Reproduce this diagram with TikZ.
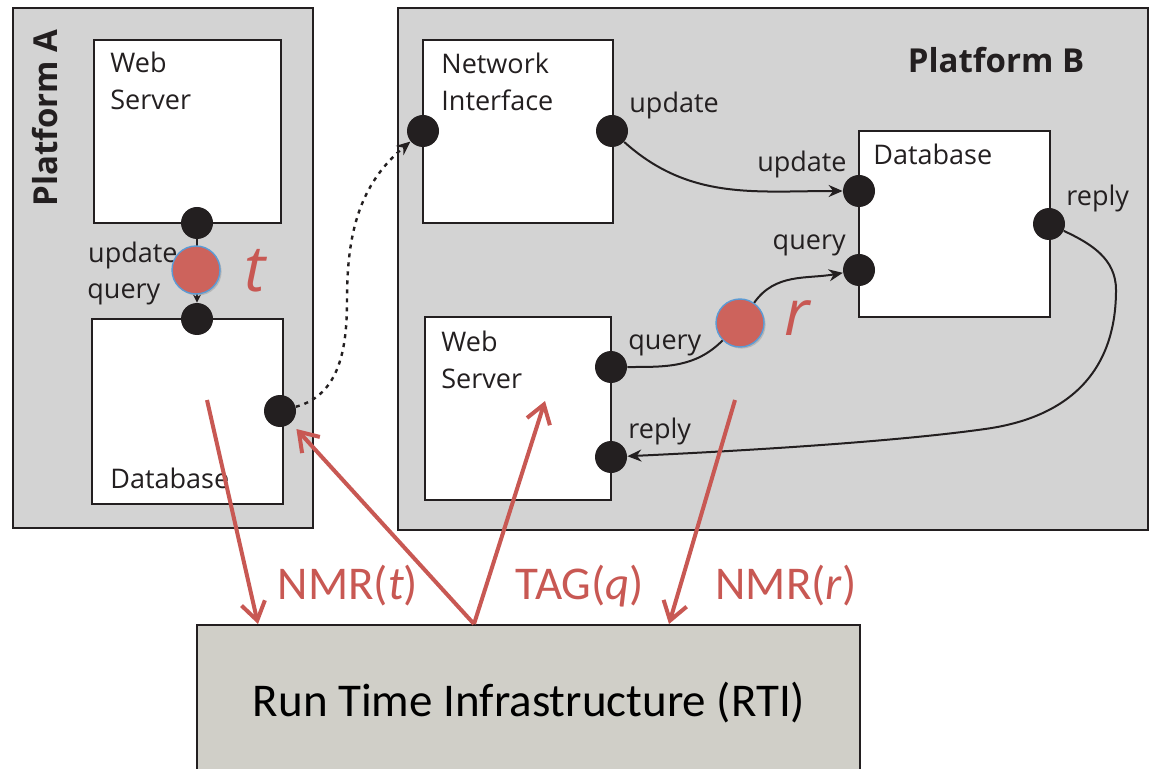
\documentclass[tikz,border=0pt]{standalone}
\usepackage{fontspec}
\setmainfont{Open Sans}
\newfontfamily\calfont{Carlito}
\usetikzlibrary{arrows.meta,shadows}
\definecolor{platgray}{RGB}{211,211,211}
\definecolor{rtigray}{RGB}{208,207,200}
\definecolor{nmrred}{RGB}{200,88,83}
\definecolor{dotred}{RGB}{205,99,92}
\definecolor{ringblue}{RGB}{91,155,213}
\definecolor{ink}{RGB}{35,31,32}
\begin{document}
\begin{tikzpicture}[x=0.5pt,y=-0.5pt,
 platform/.style={draw=ink,line width=1.2pt,fill=platgray,inner sep=0pt},
 comp/.style={draw=ink,line width=1.2pt,fill=white,inner sep=0pt},
 port/.style={circle,fill=ink,inner sep=0pt,minimum size=16pt},
 event/.style={circle,fill=dotred,draw=ringblue,line width=0.7pt,inner sep=0pt,minimum size=24pt,
   drop shadow={shadow xshift=0.8pt,shadow yshift=-0.8pt,opacity=0.35}},
 lbl/.style={font=\fontsize{13.5}{18.5}\selectfont,text=ink,inner sep=0pt},
 ttl/.style={font=\bfseries\fontsize{16.5}{20}\selectfont,text=ink,inner sep=0pt},
 evlbl/.style={font=\itshape\fontsize{32}{36}\selectfont,text=nmrred,inner sep=0pt},
 conn/.style={draw=ink,line width=1pt,-{Stealth[length=7pt,width=6pt]}},
 rtiarrow/.style={draw=nmrred,line width=2pt,-{Straight Barb[length=9pt,width=12pt]}},
 rtilbl/.style={font=\calfont\fontsize{23.5}{28}\selectfont,text=nmrred,inner sep=0pt},
]
\useasboundingbox (0,0) rectangle (1159,769);
\clip (0,0) rectangle (1159,769);

% platforms
\node[platform,minimum width=150pt,minimum height=260pt] (platA) at (163,268) {};
\node[platform,minimum width=375pt,minimum height=261pt] (platB) at (773,269) {};
\node[ttl,rotate=90,anchor=base] (platAt) at (57,118) {Platform A};
\node[ttl,anchor=base] (platBt) at (996,73) {Platform B};

% components
\node[comp,minimum width=93.5pt,minimum height=91.5pt] (wsA) at (187.5,131.5) {};
\node[comp,minimum width=95.5pt,minimum height=92.5pt] (dbA) at (187.5,411.5) {};
\node[comp,minimum width=95pt,minimum height=91.5pt] (ni) at (518,131.5) {};
\node[comp,minimum width=95.5pt,minimum height=93pt] (dbB) at (954.5,224) {};
\node[comp,minimum width=93pt,minimum height=91.5pt] (wsB) at (518,408.5) {};

\node[lbl,anchor=base west] (wsAt) at (110,73) {Web};
\node[lbl,anchor=base west] (wsAt2) at (110,110) {Server};
\node[lbl,anchor=base west] (dbAt) at (110,488) {Database};
\node[lbl,anchor=base west] (nit) at (441,74) {Network};
\node[lbl,anchor=base west] (nit2) at (441,111) {Interface};
\node[lbl,anchor=base west] (dbBt) at (873,165) {Database};
\node[lbl,anchor=base west] (wsBt) at (441,351) {Web};
\node[lbl,anchor=base west] (wsBt2) at (441,388) {Server};

% port labels
\node[lbl,anchor=base east] (lA1) at (178,263) {update};
\node[lbl,anchor=base west] (lA2) at (87,299) {query};
\node[lbl,anchor=base west] (lN) at (629,113) {update};
\node[lbl,anchor=base east] (lD1) at (847,172) {update};
\node[lbl,anchor=base east] (lD2) at (846,250) {query};
\node[lbl,anchor=base west] (lD3) at (1066,206) {reply};
\node[lbl,anchor=base west] (lW1) at (628,350) {query};
\node[lbl,anchor=base west] (lW2) at (628,438) {reply};

% ports
\node[port] (pA1) at (197,223) {};
\node[port] (pA2) at (197,319) {};
\node[port] (pA3) at (280,411) {};
\node[port] (pN1) at (423,131) {};
\node[port] (pN2) at (612,131) {};
\node[port] (pD1) at (859,191) {};
\node[port] (pD2) at (859,270) {};
\node[port] (pD3) at (1049,224) {};
\node[port] (pW1) at (611,367) {};
\node[port] (pW2) at (611,457) {};

% connectors
\draw[draw=ink,line width=1pt,-{Stealth[length=4pt,width=4pt]}] (pA1) -- (pA2);
\draw[conn,line width=1.2pt,dash pattern=on 2pt off 2.5pt] (pA3) to[out=15,in=-90] (347,300) to[out=90,in=-140] (pN1);
\draw[conn] (pN2) to[out=-42,in=180] (pD1);
\coordinate (rc1) at (1116,290);
\coordinate (rc2) at (985,429);
\draw[conn] (pD3) to[out=-25,in=90] (rc1)
  .. controls (1116,375) and (1065,418) .. (rc2)
  .. controls (900,441) and (760,450) .. (pW2);

% events
\node[event] (t) at (196,270) {};
\node[event] (r) at (740,323) {};
\draw[conn,-] (pW1) to[out=0,in=-135] (r);
\draw[conn] (r) to[out=55,in=190] (pD2);
\node[evlbl] (tl) at (255,271) {t};
\node[evlbl] (rl) at (797,318) {r};

% RTI
\node[draw=ink,line width=1.2pt,fill=rtigray,minimum width=331.5pt,minimum height=78pt] (rti) at (528.5,703) {};
\node[font=\calfont\fontsize{23.5}{28}\selectfont,text=black] (rtit) at (529,703) {Run Time Infrastructure (RTI)};

\coordinate (a1s) at (207,400);
\coordinate (a1e) at (258,624);
\coordinate (fork) at (474,624);
\coordinate (a3e) at (545,401);
\coordinate (a4s) at (735,400);
\coordinate (a4e) at (669,624);
\draw[rtiarrow] (a1s) -- (a1e);
\draw[rtiarrow,shorten >=4pt] (fork) -- (pA3);
\draw[rtiarrow] (fork) -- (a3e);
\draw[rtiarrow] (a4s) -- (a4e);

\node[rtilbl] (nmrt) at (348,586) {NMR(\textit{t})};
\node[rtilbl] (tagq) at (580,586) {TAG(\textit{q})};
\node[rtilbl] (nmrr) at (786,586) {NMR(\textit{r})};
\end{tikzpicture}
\end{document}
